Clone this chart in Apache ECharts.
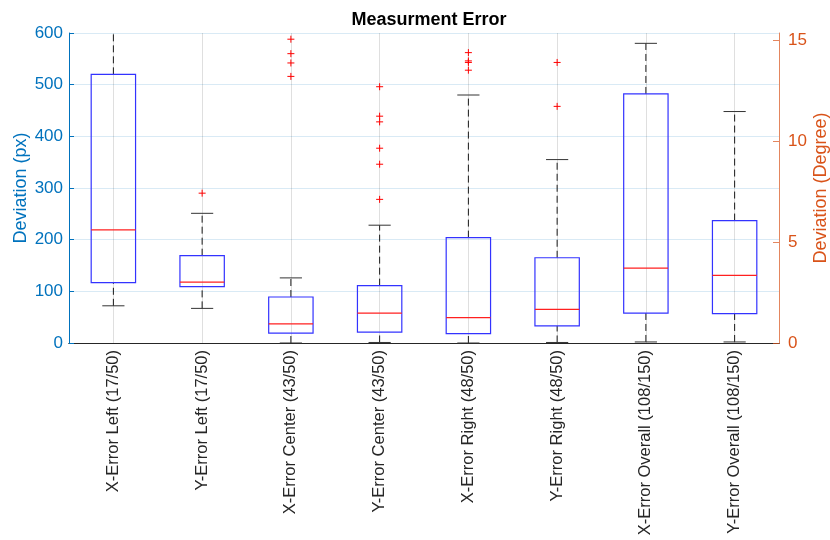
<!DOCTYPE html>
<html>
<head>
<meta charset="utf-8">
<title>Measurment Error</title>
<script src="https://cdn.jsdelivr.net/npm/echarts@6/dist/echarts.min.js"></script>
<style>
  html, body { margin: 0; padding: 0; background: #fff; }
  #chart { width: 830px; height: 540px; }
</style>
</head>
<body>
<div id="chart"></div>
<script>
// categories and box statistics (px)
const categories = [
  'X-Error Left (17/50)', 'Y-Error Left (17/50)',
  'X-Error Center (43/50)', 'Y-Error Center (43/50)',
  'X-Error Right (48/50)', 'Y-Error Right (48/50)',
  'X-Error Overall (108/150)', 'Y-Error Overall (108/150)'
];
const whiskerLow  = [72, 67, 0, 1, 0, 1, 2, 2];
const q1          = [117, 109, 19, 21, 18, 33, 58, 57];
const median      = [219, 118, 37, 58, 49, 65, 145, 131];
const q3          = [520, 169, 89, 111, 204, 165, 482, 237];
const whiskerHigh = [650, 251, 126, 228, 480, 355, 580, 448];
const outliers = [
  [],
  [290],
  [588, 560, 542, 516],
  [496, 439, 428, 377, 346, 278],
  [562, 546, 543, 528],
  [543, 458],
  [],
  []
];
const leftTicks = [0, 100, 200, 300, 400, 500, 600];
const rightTicks = [0, 5, 10, 15];

const blue = '#0072BD';
const orange = '#D95319';
const dark = '#262626';

// table for the custom series
const boxData = categories.map((c, i) => [i, whiskerLow[i], q1[i], median[i], q3[i], whiskerHigh[i]]);
const outlierData = [];
outliers.forEach((arr, i) => arr.forEach(v => outlierData.push([i, v])));

let chart = echarts.init(document.getElementById('chart'));

// box + dashed whiskers + red median, clipped to the plot area
function renderBox(params, api) {
  const i = api.value(0);
  const cs = params.coordSys;
  const top = cs.y, bottom = cs.y + cs.height;
  const cx = api.coord([i, 0])[0];
  const bw = api.size([1, 0])[0];
  const half = bw * 0.25, capHalf = bw * 0.125;
  const raw = v => api.coord([i, v])[1];
  const y = v => Math.min(bottom, Math.max(top, raw(v)));
  const lo = api.value(1), a = api.value(2), m = api.value(3), b = api.value(4), hi = api.value(5);
  const dash = { stroke: '#1a1a1a', lineWidth: 1, lineDash: [7, 4] };
  const cap = { stroke: '#333', lineWidth: 1 };
  const children = [
    { type: 'line', shape: { x1: cx, y1: y(b), x2: cx, y2: y(hi) }, style: dash },
    { type: 'line', shape: { x1: cx, y1: y(lo), x2: cx, y2: y(a) }, style: dash }
  ];
  if (raw(hi) >= top) {
    children.push({ type: 'line', shape: { x1: cx - capHalf, y1: y(hi), x2: cx + capHalf, y2: y(hi) }, style: cap });
  }
  children.push({ type: 'line', shape: { x1: cx - capHalf, y1: y(lo), x2: cx + capHalf, y2: y(lo) }, style: cap });
  children.push({
    type: 'rect',
    shape: { x: cx - half, y: y(b), width: half * 2, height: y(a) - y(b) },
    style: { fill: 'none', stroke: '#3333ff', lineWidth: 1.2 }
  });
  children.push({ type: 'line', shape: { x1: cx - half, y1: y(m), x2: cx + half, y2: y(m) }, style: { stroke: '#ff2020', lineWidth: 1.2 } });
  return { type: 'group', children: children };
}

// red "+" outlier markers
function renderPlus(params, api) {
  const p = api.coord([api.value(0), api.value(1)]);
  const s = 3.5;
  const st = { stroke: '#ff0000', lineWidth: 1 };
  return {
    type: 'group',
    children: [
      { type: 'line', shape: { x1: p[0] - s, y1: p[1], x2: p[0] + s, y2: p[1] }, style: st },
      { type: 'line', shape: { x1: p[0], y1: p[1] - s, x2: p[0], y2: p[1] + s }, style: st }
    ]
  };
}

let option = {
  animation: false,
  backgroundColor: '#fff',
  textStyle: { fontFamily: 'Liberation Sans, Arial, sans-serif' },
  title: {
    text: 'Measurment Error',
    left: 424,
    textAlign: 'center',
    top: 6,
    textStyle: { fontSize: 18, fontWeight: 'bold', color: '#000' }
  },
  grid: { left: 69, right: 51, top: 33, height: 310, outerBoundsMode: 'none', containLabel: false },
  xAxis: [
    {
      type: 'category',
      data: categories,
      position: 'bottom',
      axisLine: { lineStyle: { color: dark } },
      axisTick: { inside: true, alignWithLabel: true, length: 5, lineStyle: { color: dark } },
      axisLabel: { rotate: 90, fontSize: 16.5, color: dark, margin: 7, interval: 0 },
      splitLine: { show: false }
    },
    {
      type: 'category',
      data: categories,
      position: 'top',
      axisLine: { lineStyle: { color: dark } },
      axisTick: { inside: true, alignWithLabel: true, length: 5, lineStyle: { color: dark } },
      axisLabel: { show: false },
      splitLine: { show: false }
    }
  ],
  yAxis: [
    {
      type: 'value',
      min: 0,
      max: 600,
      interval: 100,
      position: 'left',
      name: 'Deviation (px)',
      nameLocation: 'middle',
      nameRotate: 90,
      nameGap: 39,
      nameMoveOverlap: false,
      nameTextStyle: { fontSize: 18, color: blue },
      axisLine: { show: true, lineStyle: { color: blue } },
      axisTick: { show: true, inside: true, length: 5, lineStyle: { color: blue } },
      axisLabel: { fontSize: 17, color: blue, margin: 6, customValues: leftTicks },
      splitLine: { show: true, lineStyle: { color: 'rgba(0,114,189,0.15)' } }
    },
    {
      type: 'value',
      min: 0,
      max: 15.37,
      interval: 5,
      position: 'right',
      name: 'Deviation (Degree)',
      nameLocation: 'middle',
      nameRotate: 90,
      nameGap: 33,
      nameMoveOverlap: false,
      nameTextStyle: { fontSize: 18, color: orange },
      axisLine: { show: true, lineStyle: { color: orange, opacity: 0.7 } },
      axisTick: { show: true, inside: true, length: 6, customValues: rightTicks, lineStyle: { color: orange, opacity: 0.7 } },
      axisLabel: {
        fontSize: 17, color: orange, margin: 9, customValues: rightTicks,
        formatter: v => (v % 5 === 0 ? String(v) : '')
      },
      splitLine: { show: false }
    }
  ],
  series: [
    {
      name: 'box',
      type: 'custom',
      xAxisIndex: 0,
      yAxisIndex: 0,
      renderItem: renderBox,
      encode: { x: 0, y: [1, 2, 3, 4, 5] },
      data: boxData,
      z: 3,
      markLine: {
        silent: true,
        symbol: 'none',
        label: { show: false },
        lineStyle: { color: 'rgba(38,38,38,0.15)', type: 'solid', width: 1 },
        data: categories.map((c, i) => ({ xAxis: i })),
        z: 1
      }
    },
    {
      name: 'outliers',
      type: 'custom',
      xAxisIndex: 0,
      yAxisIndex: 0,
      renderItem: renderPlus,
      encode: { x: 0, y: 1 },
      data: outlierData,
      z: 4
    }
  ]
};
chart.setOption(option);
window.addEventListener('resize', function () {
  chart.resize();
});
</script>
</body>
</html>
